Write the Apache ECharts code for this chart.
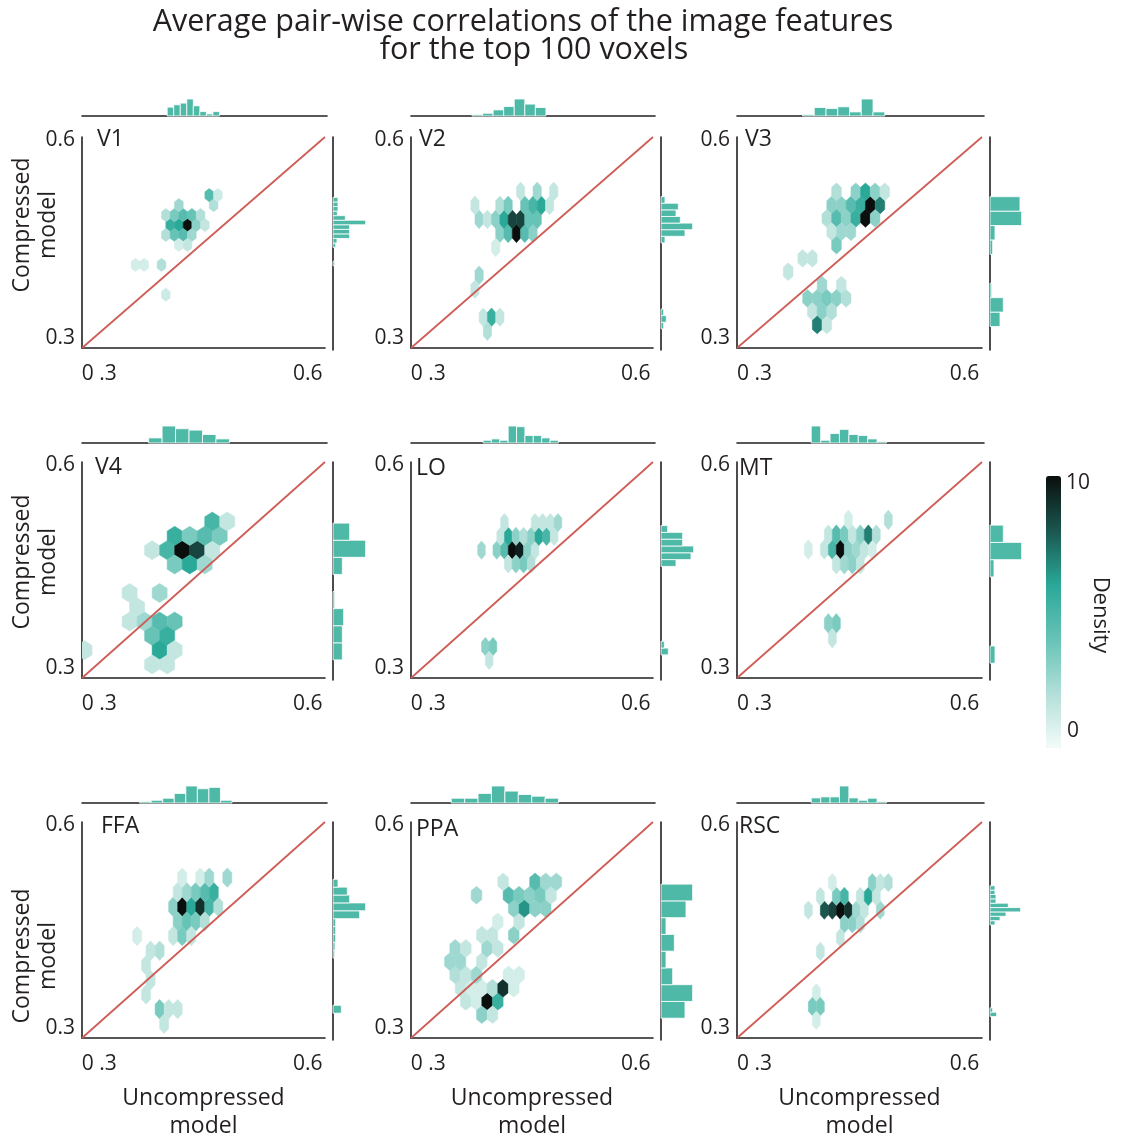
<!DOCTYPE html>
<html>
<head>
<meta charset="utf-8">
<script src="https://cdn.jsdelivr.net/npm/echarts@6/dist/echarts.min.js"></script>
<style>
html, body { margin: 0; padding: 0; background: #fff; }
#chart { width: 1129px; height: 1139px; }
</style>
</head>
<body>
<div id="chart"></div>
<script>
// ---- data ----
var regions = ['V1', 'V2', 'V3', 'V4', 'LO', 'MT', 'FFA', 'PPA', 'RSC'];
var xRange = [0.275, 0.625];
var yRange = [0.285, 0.605];
var tickValues = [0.3, 0.6];

// hexbin lattice of each panel (origin + half steps, data units)
var hexX0 = [0.427, 0.4275, 0.4654, 0.4193, 0.4212, 0.4226, 0.4193, 0.3851, 0.4226];
var hexY0 = [0.4715, 0.4589, 0.5017, 0.4744, 0.4744, 0.4754, 0.4793, 0.3391, 0.4744];
var hexDX = [0.00625, 0.006, 0.0069, 0.01082, 0.00553, 0.00571, 0.0065, 0.0077, 0.00571];
var hexDY = [0.0151, 0.0212, 0.0202, 0.02116, 0.0204, 0.0219, 0.02165, 0.01968, 0.0204];

// hex cells: [column, row, density]
var hexV1 = [[-4,0,5.5],[-2,0,6],[0,0,10],[2,0,3],[4,0,1.5],
  [-5,1,2],[-3,1,3.5],[-1,1,4.5],[1,1,4],[3,1,2],
  [-5,-1,2],[-3,-1,4],[-1,-1,4.5],[1,-1,2.5],
  [-2,-2,1],[0,-2,1.5],[-2,2,2.5],[6,2,2],[5,3,4.5],[7,3,1.2],
  [-12,-4,1],[-10,-4,1],[-6,-4,2],[-5,-7,1.2]];
var hexV2 = [[-4,0,3],[-2,0,4.5],[0,0,10],[2,0,4.5],[4,0,3],
  [-9,1,2.5],[-7,1,1.5],[-5,1,3],[-3,1,6],[-1,1,8.5],[1,1,8.5],[3,1,4],[5,1,4],
  [-10,2,1.5],[-4,2,2],[-2,2,3.5],[2,2,4],[4,2,5],[6,2,6],[8,2,1.5],
  [1,3,1.5],[5,3,2.5],[9,3,1.5],[-5,-1,1],
  [-9,-3,2.5],[-10,-4,1.5],[-8,-6,1.5],[-6,-6,5.5],[-4,-6,1.5],[-7,-7,2]];
var hexV3 = [[-8,0,3],[-6,0,3],[-4,0,4.5],[-2,0,5.5],[0,0,10],[2,0,7],
  [-7,1,2],[-3,1,3],[-1,1,6],[1,1,3],[3,1,1.5],
  [-9,-1,2],[-7,-1,4.5],[-5,-1,3],[-3,-1,5.5],[-1,-1,10],[1,-1,3],
  [-8,-2,1.5],[-6,-2,2.5],[-4,-2,2.5],[-7,-3,3.5],
  [-14,-4,1.5],[-12,-4,1.5],[-17,-5,1.5],[-10,-6,2.5],[-6,-6,1.5],
  [-13,-7,3],[-11,-7,3],[-9,-7,3.5],[-7,-7,3],[-5,-7,2],
  [-12,-8,1.5],[-10,-8,3],[-8,-8,2],[-11,-9,7],[-9,-9,1.5]];
var hexV4 = [[-4,0,1.5],[-2,0,5],[0,0,10],[2,0,8.5],[4,0,1.5],
  [-1,1,5.5],[1,1,3.5],[3,1,4.5],[5,1,3.5],[4,2,5],[6,2,1.5],
  [-1,-1,3.5],[1,-1,6],[3,-1,2.5],[-7,-3,1.5],[-3,-3,2.5],[-6,-4,1.5],
  [-7,-5,1.5],[-5,-5,2.5],[-3,-5,4.5],[-1,-5,4],[-4,-6,4],[-2,-6,5.5],
  [-13,-7,1.5],[-3,-7,6],[-1,-7,1.5],[-4,-8,1.5],[-2,-8,1.5]];
var hexLO = [[-8,0,2.5],[-4,0,3],[-2,0,4.5],[0,0,10],[2,0,9.5],[4,0,3],[6,0,1.5],
  [-3,1,1.5],[-1,1,6],[1,1,3],[3,1,2],[5,1,3],[7,1,6],[9,1,5],[11,1,1.5],
  [-2,2,1.5],[6,2,1.5],[8,2,1.5],[10,2,1.5],[12,2,2.5],
  [-1,-1,1.5],[1,-1,3],[3,-1,3.5],[5,-1,2],
  [-7,-7,3],[-5,-7,3.5],[-6,-8,1.5]];
var hexMT = [[-8,0,1],[-4,0,1.5],[-2,0,5],[0,0,10],[2,0,3],[4,0,2.5],[6,0,1.5],[8,0,1],
  [-3,1,1.5],[-1,1,4.5],[1,1,3.5],[3,1,1.5],[5,1,3],[7,1,7],[9,1,2],
  [2,2,1],[12,2,2],[-1,-1,1.5],[1,-1,2.5],[3,-1,3],[5,-1,1.5],
  [-3,-5,3],[-1,-5,3.5],[-2,-6,1.5]];
var hexFFA = [[-2,0,3],[0,0,10],[2,0,6],[4,0,9],[6,0,5],[8,0,2],
  [-1,1,1.5],[1,1,2.5],[3,1,3.5],[5,1,4.5],[7,1,5.5],
  [0,2,1],[4,2,1],[6,2,2.5],[10,2,2.5],
  [-1,-1,3],[1,-1,4],[3,-1,3.5],[5,-1,2],
  [-10,-2,1],[-2,-2,1.5],[0,-2,3.5],[2,-2,1.5],
  [-7,-3,1.5],[-5,-3,2],[-8,-4,1.5],[-7,-5,1.5],[-8,-6,1.5],
  [-5,-7,3.5],[-3,-7,1.5],[-1,-7,1.5],[-4,-8,1.5]];
var hexPPA = [[-4,0,1.5],[-2,0,1],[0,0,10],[2,0,5.5],
  [-5,1,1.5],[-3,1,1],[-1,1,1],[1,1,2],[3,1,9],[5,1,1],
  [-1,-1,3],[1,-1,1.5],
  [-6,2,2],[-4,2,1.5],[-2,2,2.5],[4,2,1],[6,2,1],
  [-7,3,2.5],[-5,3,2.5],[-1,3,1.5],
  [-6,4,2.5],[-4,4,1.5],[0,4,2.5],[2,4,1.5],
  [-1,5,1.5],[1,5,1.5],[5,5,3],[2,6,1],[6,6,1.5],
  [5,7,3],[7,7,6.5],[9,7,3],[11,7,3],
  [-2,8,2.5],[4,8,4.5],[6,8,3.5],[8,8,3],[10,8,3.5],[12,8,1.5],
  [3,9,1.5],[9,9,4.5],[11,9,2.5],[13,9,2.5]];
var hexRSC = [[-8,0,1.5],[-4,0,8],[-2,0,8.5],[0,0,10],[2,0,9],[4,0,2.5],[6,0,1.5],[10,0,2.5],
  [-5,1,1.5],[-1,1,3.5],[1,1,5],[5,1,1.5],[7,1,6],[9,1,1.5],
  [-2,2,1],[8,2,3],[10,2,1.5],[12,2,2],
  [1,-1,3],[3,-1,3],[5,-1,2],[0,-2,1.5],[-5,-3,1.5],
  [-6,-6,1],[-7,-7,3.5],[-5,-7,3.5],[-6,-8,1]];
var hexCells = [hexV1, hexV2, hexV3, hexV4, hexLO, hexMT, hexFFA, hexPPA, hexRSC];

// top marginal histograms (uncompressed model)
var topStart = [0.3967, 0.3625, 0.3678, 0.3702, 0.3784, 0.3802, 0.3573, 0.3327, 0.3802];
var topWidth = [0.00933, 0.01515, 0.01666, 0.01924, 0.0120, 0.01333, 0.0165, 0.01924, 0.01333];
var topV1 = [26, 33, 38, 50, 30, 13, 6, 13];
var topV2 = [4, 8, 18, 28, 50, 35, 25];
var topV3 = [4, 25, 22, 27, 12, 50, 12];
var topV4 = [15, 50, 42, 38, 25, 12];
var topLO = [8, 12, 8, 50, 48, 22, 22, 15, 8];
var topMT = [50, 8, 28, 40, 25, 22, 12, 4];
var topFFA = [4, 8, 14, 28, 50, 42, 46, 8];
var topPPA = [14, 14, 28, 50, 35, 25, 20, 14];
var topRSC = [15, 18, 18, 50, 15, 8, 14, 4];
var topCounts = [topV1, topV2, topV3, topV4, topLO, topMT, topFFA, topPPA, topRSC];

// right marginal histograms (compressed model), bottom bin first
var rightStart = [0.4115, 0.3168, 0.3203, 0.3145, 0.3219, 0.3096, 0.3244, 0.317, 0.3194];
var rightWidth = [0.00685, 0.00993, 0.02167, 0.0251, 0.00999, 0.02534, 0.01156, 0.0246, 0.0064];
var rightV1 = [5, 0, 0, 0, 8, 12, 50, 50, 50, 98, 37, 13, 15, 15, 15];
var rightV2 = [8, 16, 8, 0, 0, 0, 0, 0, 0, 0, 0, 0, 0, 12, 72, 95, 58, 45, 52, 12];
var rightV3 = [30, 40, 5, 0, 0, 8, 15, 95, 90];
var rightV4 = [28, 28, 32, 5, 0, 28, 98, 50];
var rightLO = [22, 10, 0, 0, 0, 0, 0, 0, 0, 0, 0, 0, 0, 45, 90, 98, 65, 65, 20];
var rightMT = [15, 0, 0, 0, 0, 12, 95, 40];
var rightFFA = [25, 0, 0, 0, 0, 0, 0, 5, 6, 8, 8, 8, 80, 98, 50, 43, 15];
var rightPPA = [72, 95, 35, 15, 40, 15, 75, 95];
var rightRSC = [20, 8, 0, 0, 0, 0, 0, 0, 0, 0, 0, 0, 0, 0, 0, 0, 0, 0, 0, 0, 0,
  15, 30, 48, 92, 55, 18, 18, 15, 15];
var rightCounts = [rightV1, rightV2, rightV3, rightV4, rightLO, rightMT, rightFFA, rightPPA, rightRSC];

// ---- layout / style ----
var colLeft = [82, 411, 737];
var colWidth = [243, 242, 245];
var rowTop = [137, 462, 822];
var rowHeight = [211, 216, 216];
var histBase = [116, 443, 803];
var labelPos = [[97, 139], [419, 139], [745, 139], [95, 467], [416, 468], [739, 468],
  [101, 826], [416, 829], [739, 826]];
var ink = '#231f20';
var histColor = '#4fb9a8';
var font = '"Open Sans", "Noto Sans", sans-serif';

var chart = echarts.init(document.getElementById('chart'));

function hexRenderer(dx, dy) {
  return function (params, api) {
    var c = api.coord([api.value(0), api.value(1)]);
    var s = api.size([dx, dy]);
    var w = s[0], r = s[1] * 2 / 3;
    var col = api.visual('color');
    return {
      type: 'polygon',
      shape: { points: [[c[0], c[1] - r], [c[0] + w, c[1] - r / 2], [c[0] + w, c[1] + r / 2],
        [c[0], c[1] + r], [c[0] - w, c[1] + r / 2], [c[0] - w, c[1] - r / 2]] },
      style: { fill: col, stroke: col, lineWidth: 0.5 }
    };
  };
}

function topBar(params, api) {
  var p0 = api.coord([api.value(0), 0]);
  var p1 = api.coord([api.value(1), api.value(2)]);
  return { type: 'rect', shape: { x: p0[0], y: p1[1], width: p1[0] - p0[0], height: p0[1] - p1[1] },
    style: { fill: histColor, stroke: '#fff', lineWidth: 0.8 } };
}

function rightBar(params, api) {
  var p0 = api.coord([0, api.value(0)]);
  var p1 = api.coord([api.value(2), api.value(1)]);
  return { type: 'rect', shape: { x: p0[0], y: p1[1], width: p1[0] - p0[0], height: p0[1] - p1[1] },
    style: { fill: histColor, stroke: '#fff', lineWidth: 0.8 } };
}

function bins(start, width, counts) {
  var out = [];
  counts.forEach(function (n, k) {
    if (n > 0) out.push([start + k * width, start + (k + 1) * width, n]);
  });
  return out;
}

var grids = [], xAxes = [], yAxes = [], series = [], hexSeriesIdx = [];
var graphics = [];
var lineStyleAxis = { show: true, onZero: false, lineStyle: { color: ink, width: 1.6 } };

regions.forEach(function (name, p) {
  var r = Math.floor(p / 3), c = p % 3;
  var g = grids.length;
  // main hexbin panel
  grids.push({ left: colLeft[c], top: rowTop[r], width: colWidth[c], height: rowHeight[r],
    containLabel: false, outerBoundsMode: 'none' });
  xAxes.push({
    type: 'value', gridIndex: g, min: xRange[0], max: xRange[1],
    axisLine: lineStyleAxis, axisTick: { show: false }, splitLine: { show: false },
    axisLabel: { customValues: tickValues, margin: 16, color: ink, fontSize: 21, fontFamily: font,
      formatter: function (v) { return Math.abs(v - 0.3) < 1e-6 ? '0 .3' : '0.6'; } },
    name: r === 2 ? 'Uncompressed\nmodel' : '', nameLocation: 'middle', nameGap: 46,
    nameTextStyle: { color: ink, fontSize: 23, fontFamily: font, lineHeight: 28 }
  });
  yAxes.push({
    type: 'value', gridIndex: g, min: yRange[0], max: yRange[1],
    axisLine: lineStyleAxis, axisTick: { show: false }, splitLine: { show: false },
    axisLabel: { customValues: tickValues, margin: 7, color: ink, fontSize: 21, fontFamily: font,
      formatter: function (v) { return v.toFixed(1); } }
  });
  var cells = hexCells[p].map(function (h) {
    return [hexX0[p] + h[0] * hexDX[p], hexY0[p] + h[1] * hexDY[p], h[2]];
  });
  hexSeriesIdx.push(series.length);
  series.push({ type: 'custom', xAxisIndex: g, yAxisIndex: g, clip: true, z: 2,
    encode: { x: 0, y: 1 }, renderItem: hexRenderer(hexDX[p], hexDY[p]), data: cells });
  series.push({ type: 'line', xAxisIndex: g, yAxisIndex: g, symbol: 'none', z: 3, silent: true,
    lineStyle: { color: '#cf5d57', width: 1.8 },
    data: [[xRange[0], yRange[0]], [xRange[1], yRange[1]]] });

  // top marginal
  g = grids.length;
  grids.push({ left: colLeft[c], top: histBase[r] - 17, width: colWidth[c] + 2, height: 17,
    containLabel: false, outerBoundsMode: 'none' });
  xAxes.push({ type: 'value', gridIndex: g, min: xRange[0], max: xRange[1], axisLine: lineStyleAxis,
    axisTick: { show: false }, axisLabel: { show: false }, splitLine: { show: false } });
  yAxes.push({ type: 'value', gridIndex: g, min: 0, max: 50, show: false });
  series.push({ type: 'custom', xAxisIndex: g, yAxisIndex: g, renderItem: topBar,
    encode: { x: [0, 1], y: 2 }, data: bins(topStart[p], topWidth[p], topCounts[p]) });

  // right marginal
  g = grids.length;
  grids.push({ left: colLeft[c] + colWidth[c] + 8, top: rowTop[r], width: 33.3, height: rowHeight[r] + 2,
    containLabel: false, outerBoundsMode: 'none' });
  xAxes.push({ type: 'value', gridIndex: g, min: 0, max: 100, show: false });
  yAxes.push({ type: 'value', gridIndex: g, min: yRange[0], max: yRange[1], axisLine: lineStyleAxis,
    axisTick: { show: false }, axisLabel: { show: false }, splitLine: { show: false } });
  series.push({ type: 'custom', xAxisIndex: g, yAxisIndex: g, renderItem: rightBar,
    encode: { x: 2, y: [0, 1] }, data: bins(rightStart[p], rightWidth[p], rightCounts[p]) });

  graphics.push({ type: 'text', x: labelPos[p][0], y: labelPos[p][1], z: 10,
    style: { text: name, fontSize: 23, fontFamily: font, fill: ink, align: 'left', verticalAlign: 'middle' } });
});

var yNameCenter = [225, 562, 956];
yNameCenter.forEach(function (y) {
  graphics.push({ type: 'text', x: 35, y: y, rotation: Math.PI / 2,
    style: { text: 'Compressed\nmodel', fontSize: 23, lineHeight: 26, fontFamily: font, fill: ink,
      align: 'center', verticalAlign: 'middle' } });
});

graphics.push({ type: 'text', x: 523, y: 22, style: { text: 'Average pair-wise correlations of the image features',
  fontSize: 30.5, fontFamily: font, fill: ink, align: 'center', verticalAlign: 'middle' } });
graphics.push({ type: 'text', x: 534, y: 50, style: { text: 'for the top 100 voxels',
  fontSize: 30.5, fontFamily: font, fill: ink, align: 'center', verticalAlign: 'middle' } });
graphics.push({ type: 'text', x: 1066, y: 483, style: { text: '10', fontSize: 21, fontFamily: font, fill: ink,
  align: 'left', verticalAlign: 'middle' } });
graphics.push({ type: 'text', x: 1067, y: 731, style: { text: '0', fontSize: 21, fontFamily: font, fill: ink,
  align: 'left', verticalAlign: 'middle' } });
graphics.push({ type: 'text', x: 1100, y: 615, rotation: -Math.PI / 2, style: { text: 'Density', fontSize: 22,
  fontFamily: font, fill: ink, align: 'center', verticalAlign: 'middle' } });

chart.setOption({
  animation: false,
  backgroundColor: '#fff',
  grid: grids,
  xAxis: xAxes,
  yAxis: yAxes,
  visualMap: {
    type: 'continuous', min: 0, max: 10, dimension: 2, seriesIndex: hexSeriesIdx,
    orient: 'vertical', left: 1046, top: 476, padding: 0, itemWidth: 15, itemHeight: 272,
    calculable: false, text: null, showLabel: false,
    inRange: { color: ['#f4fbfa', '#b2dfd8', '#66c3b6', '#2aa898', '#1b564e', '#0a0e0d'] }
  },
  graphic: graphics,
  series: series
});
</script>
</body>
</html>
